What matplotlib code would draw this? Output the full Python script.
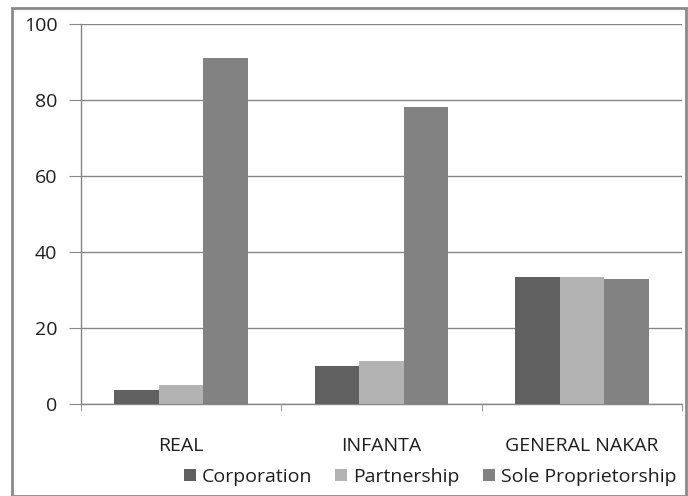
import matplotlib
matplotlib.use("Agg")
import matplotlib.pyplot as plt
import numpy as np
from matplotlib.patches import Rectangle

plt.rcParams['font.family'] = ['Open Sans', 'DejaVu Sans']

categories = ["REAL", "INFANTA", "GENERAL NAKAR"]
series_names = ["Corporation", "Partnership", "Sole Proprietorship"]
corporation = [3.8, 10.0, 33.4]
partnership = [5.0, 11.4, 33.4]
sole_proprietorship = [91.0, 78.2, 32.9]
y_ticks = [0, 20, 40, 60, 80, 100]

colors = ["#606060", "#b3b3b3", "#828282"]
grid_color = "#868686"
text_color = "#1e1e1e"

fig = plt.figure(figsize=(6.88, 4.96), dpi=100)
ax = fig.add_axes([81 / 688, 1 - 404 / 496, (682 - 81) / 688, (404 - 24) / 496])

x = np.arange(len(categories))
width = 1 / 4.5
for i, (vals, name, col) in enumerate(zip([corporation, partnership, sole_proprietorship],
                                          series_names, colors)):
    ax.bar(x + (i - 1) * width, vals, width, color=col, label=name, zorder=3)

ax.set_xlim(-0.5, len(categories) - 0.5)
ax.set_ylim(0, 100)
ax.set_yticks(y_ticks)
ax.yaxis.grid(True, color=grid_color, linewidth=1.0, zorder=0)

ax.set_xticks(x)
ax.set_xticklabels(categories, fontsize=14)
ax.tick_params(axis='x', length=0, pad=24, labelcolor=text_color)
ax.set_xticks(np.arange(-0.5, len(categories)), minor=True)
ax.tick_params(axis='x', which='minor', length=5, color=grid_color, direction='out')
ax.tick_params(axis='y', length=9, color=grid_color, labelsize=14, pad=8,
               labelcolor=text_color)

for side in ['top', 'right']:
    ax.spines[side].set_visible(False)
for side in ['left', 'bottom']:
    ax.spines[side].set_color(grid_color)
    ax.spines[side].set_linewidth(1.0)

leg = fig.legend(loc='center', bbox_to_anchor=(430 / 688, 1 - 477 / 496), ncol=3,
                 frameon=False, fontsize=14, handlelength=0.62, handleheight=0.62,
                 handletextpad=0.3, columnspacing=1.2, labelcolor=text_color)

fig.patches.append(Rectangle((12 / 688, 0), (686 - 12) / 688, 1 - 8 / 496,
                             transform=fig.transFigure, fill=False,
                             edgecolor="#8a8a8a", linewidth=2))

fig.savefig("out.png", dpi=100)
